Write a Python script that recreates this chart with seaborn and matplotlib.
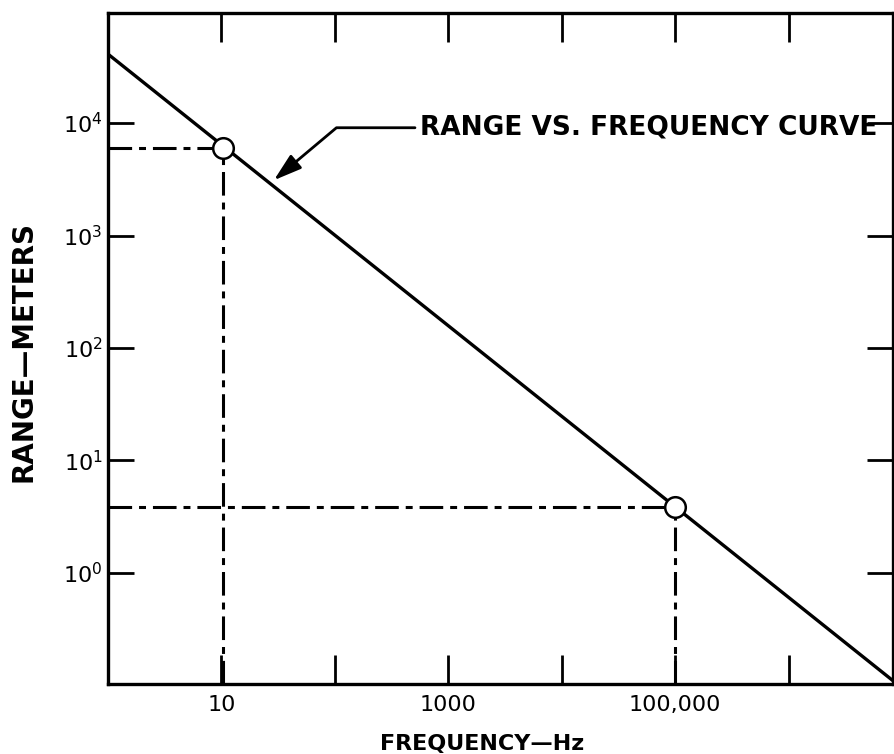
import numpy as np
import pandas as pd
import matplotlib
matplotlib.use("Agg")
import matplotlib.pyplot as plt
import matplotlib.ticker as mticker
import seaborn as sns

# ---- data ----
curve_freq_hz = [1.0, 1.0e7]
curve_range_m = [41000.0, 0.095]

mark_freq_hz = [10.4, 1.0e5]
mark_range_m = [6000.0, 3.85]

x_tick_values = [1e1, 1e2, 1e3, 1e4, 1e5, 1e6]
x_tick_labels = ["10", "", "1000", "", "100,000", ""]
y_tick_values = [1e0, 1e1, 1e2, 1e3, 1e4]
y_tick_labels = [r"$10^{0}$", r"$10^{1}$", r"$10^{2}$", r"$10^{3}$", r"$10^{4}$"]

annot_text = "RANGE VS. FREQUENCY CURVE"
annot_tip = (29.0, 3100.0)
x_label = "FREQUENCY—Hz"
y_label = "RANGE—METERS"

# ---- style ----
sns.set_style("white")
plt.rcParams["font.family"] = ["DejaVu Sans"]
plt.rcParams["lines.scale_dashes"] = False
plt.rcParams["text.color"] = "black"
plt.rcParams["axes.labelcolor"] = "black"

fig = plt.figure(figsize=(8.94, 7.54), dpi=100)
ax = fig.add_axes([108 / 894, (754 - 684) / 754, (893 - 108) / 894, (684 - 13) / 754])
ax.set_xscale("log")
ax.set_yscale("log")
ax.set_xlim(10 ** 0.0, 10 ** 6.92)
ax.set_ylim(10 ** -0.987, 10 ** 4.978)

curve_df = pd.DataFrame({"freq": curve_freq_hz, "range": curve_range_m})
sns.lineplot(data=curve_df, x="freq", y="range", ax=ax, color="black",
             linewidth=2.4, zorder=3)

dashdot = (0, (17, 5, 5, 5))
x0 = ax.get_xlim()[0]
y0 = ax.get_ylim()[0]
for fx, ry in zip(mark_freq_hz, mark_range_m):
    ax.hlines(ry, x0, fx, colors="black", linewidth=2.2, linestyles=dashdot, zorder=2)
    ax.vlines(fx, y0, ry, colors="black", linewidth=2.2, linestyles=dashdot, zorder=2)

mark_df = pd.DataFrame({"freq": mark_freq_hz, "range": mark_range_m})
sns.scatterplot(data=mark_df, x="freq", y="range", ax=ax, s=220, color="white",
                edgecolor="black", linewidth=1.8, zorder=4)

ax.annotate(annot_text, xy=annot_tip, xycoords="data",
            xytext=(0.397, 0.829), textcoords="axes fraction",
            ha="left", va="center", fontsize=19, fontweight="bold", color="black",
            arrowprops=dict(arrowstyle="-|>,head_length=0.9,head_width=0.28",
                            color="black", linewidth=2.0,
                            connectionstyle="angle,angleA=0,angleB=40,rad=0",
                            shrinkA=1, shrinkB=0))

# ticks
ax.xaxis.set_major_locator(mticker.FixedLocator(x_tick_values))
ax.xaxis.set_major_formatter(mticker.FixedFormatter(x_tick_labels))
ax.yaxis.set_major_locator(mticker.FixedLocator(y_tick_values))
ax.yaxis.set_major_formatter(mticker.FixedFormatter(y_tick_labels))
ax.xaxis.set_minor_locator(mticker.NullLocator())
ax.yaxis.set_minor_locator(mticker.NullLocator())
ax.tick_params(axis="x", which="major", direction="in", top=True, bottom=True,
               length=21, width=2, pad=8, labelsize=16, colors="black")
ax.tick_params(axis="y", which="major", direction="in", left=True, right=True,
               length=19, width=2, pad=4, labelsize=16, colors="black")

for sp in ax.spines.values():
    sp.set_visible(True)
    sp.set_color("black")
    sp.set_linewidth(2.4)

ax.set_xlabel(x_label, fontsize=16, fontweight="bold", color="black")
ax.set_ylabel(y_label, fontsize=20, fontweight="bold", color="black")
ax.xaxis.set_label_coords(0.477, -0.075)
ax.yaxis.set_label_coords(-0.090, 0.496)

fig.savefig("out.png", dpi=100)
